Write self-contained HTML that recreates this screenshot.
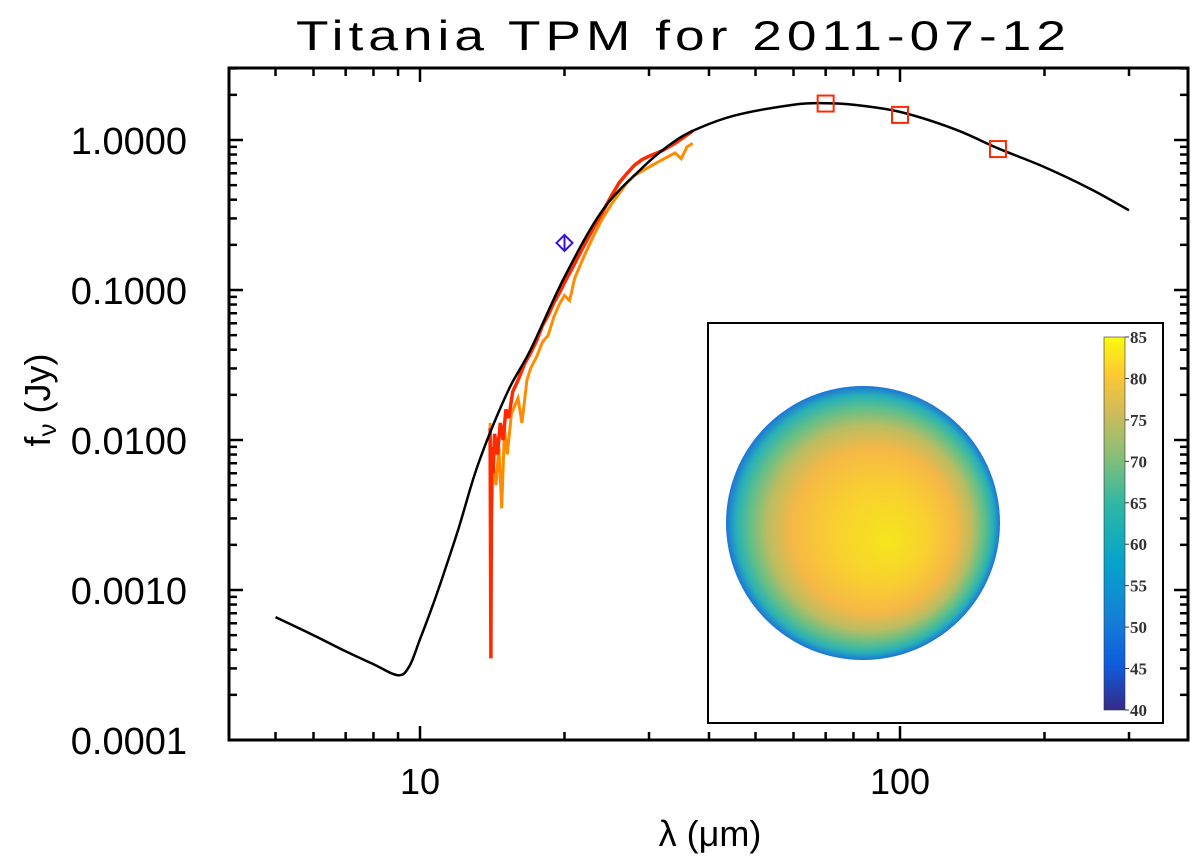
<!DOCTYPE html>
<html><head><meta charset="utf-8">
<style>
html,body{margin:0;padding:0;background:#fff;}
svg{display:block;font-family:"Liberation Sans",sans-serif;}
</style></head>
<body>
<svg id="chart" width="1200" height="866" viewBox="0 0 1200 866" xmlns="http://www.w3.org/2000/svg">
<defs>
<radialGradient id="diskGrad" cx="0.5" cy="0.5" r="0.5" fx="0.6" fy="0.57">
<stop offset="0" stop-color="#f4e61c"/>
<stop offset="0.35" stop-color="#f9cf30"/>
<stop offset="0.6" stop-color="#f5b846"/>
<stop offset="0.75" stop-color="#b9bd62"/>
<stop offset="0.86" stop-color="#5fbf8a"/>
<stop offset="0.94" stop-color="#27b0b8"/>
<stop offset="1" stop-color="#1d74d8"/>
</radialGradient>
<linearGradient id="cbGrad" x1="0" y1="1" x2="0" y2="0">
<stop offset="0" stop-color="#352a87"/>
<stop offset="0.12" stop-color="#0f5cdd"/>
<stop offset="0.25" stop-color="#1481d6"/>
<stop offset="0.4" stop-color="#06a4ca"/>
<stop offset="0.55" stop-color="#2eb7a4"/>
<stop offset="0.68" stop-color="#87bf77"/>
<stop offset="0.8" stop-color="#d1bb59"/>
<stop offset="0.9" stop-color="#fec832"/>
<stop offset="1" stop-color="#f9fb0e"/>
</linearGradient>
<clipPath id="plotClip"><rect x="229" y="68" width="959" height="672"/></clipPath>
</defs>
<text x="296" y="50" font-size="42" letter-spacing="4" textLength="775" lengthAdjust="spacingAndGlyphs" fill="#000">Titania TPM for 2011-07-12</text>
<g id="axes"></g>
<g id="series" clip-path="url(#plotClip)"></g>
<g id="inset">
<rect x="708" y="323" width="455" height="400" fill="#fff" stroke="#000" stroke-width="2"/>
<circle cx="863" cy="523" r="137" fill="url(#diskGrad)"/>
<rect x="1104" y="337" width="21" height="373" fill="url(#cbGrad)" stroke="#333" stroke-width="0.6"/>
<g id="cbLabels"></g>
</g>
<text x="710" y="846" font-size="36" text-anchor="middle">λ (μm)</text>
<text transform="translate(50,400) rotate(-90)" font-size="36" text-anchor="middle">f<tspan font-size="26" dy="6">ν</tspan><tspan dy="-6"> (Jy)</tspan></text>
</svg>
<script>
const modelLam = [5,6,7,8,9,9.5,10,10.5,11,12,13,14,15.4,17,20,24,29,33,37,45,60,70,80,100,130,160,200,250,300];
const modelFlux = [6.6e-4,5.0e-4,3.9e-4,3.2e-4,2.7e-4,3.1e-4,4.7e-4,7.1e-4,1.08e-3,2.5e-3,5.9e-3,0.0112,0.0226,0.040,0.122,0.34,0.65,0.92,1.15,1.45,1.72,1.76,1.72,1.54,1.18,0.88,0.66,0.47,0.34];
const redLam = [14.0,14.05,14.1,14.2,14.3,14.5,14.7,14.9,15.1,15.3,15.6,16,16.5,17,17.5,18,18.5,19,19.5,20,21,22,23,24,25,26,27,28,29,30,32,34,36,37];
const redFlux = [0.012,0.00035,0.009,0.006,0.011,0.008,0.013,0.010,0.016,0.014,0.021,0.025,0.032,0.038,0.046,0.058,0.068,0.082,0.095,0.112,0.15,0.2,0.26,0.33,0.42,0.52,0.6,0.68,0.74,0.78,0.85,0.95,1.08,1.15];
const orangeLam = [14.0,14.1,14.2,14.4,14.6,14.8,15,15.2,15.5,16,16.3,16.7,17,17.5,18,18.5,19,19.5,20,20.5,21,22,23,24,25,26,27,28,30,32,34,35,36,37];
const orangeFlux = [0.013,0.003,0.007,0.005,0.009,0.0035,0.012,0.008,0.015,0.019,0.013,0.025,0.03,0.036,0.045,0.05,0.066,0.08,0.092,0.085,0.12,0.17,0.23,0.3,0.37,0.44,0.52,0.58,0.66,0.74,0.82,0.75,0.9,0.95];
const photLam = [70,100,160];
const photFlux = [1.75,1.47,0.87];
const diamondLam = [20];
const diamondFlux = [0.206];
const yTickValues = [1,0.1,0.01,0.001,0.0001];
const yTickLabels = ["1.0000","0.1000","0.0100","0.0010","0.0001"];
const xTickValues = [10,100];
const xTickLabels = ["10","100"];
const cbTicks = [40,45,50,55,60,65,70,75,80,85];

const NS="http://www.w3.org/2000/svg";
const L=229,R=1188,T=68,B=740;
function xs(l){return 420+480*(Math.log10(l)-1);}
function ys(f){return 140-150*Math.log10(f);}
function mk(tag,attrs,parent){const e=document.createElementNS(NS,tag);for(const k in attrs)e.setAttribute(k,attrs[k]);parent.appendChild(e);return e;}
const axes=document.getElementById('axes'), ser=document.getElementById('series');
const frame=mk('rect',{x:L,y:T,width:R-L,height:B-T,fill:'none',stroke:'#000','stroke-width':3},axes);


for(let d=0;d<3;d++){for(let m=1;m<10;m++){const v=m*Math.pow(10,d);const x=xs(v);if(x<L||x>R)continue;const len=m===1?14:8;
mk('line',{x1:x,y1:B,x2:x,y2:B-len,stroke:'#000','stroke-width':2.5},axes);mk('line',{x1:x,y1:T,x2:x,y2:T+len,stroke:'#000','stroke-width':2.5},axes);}}
xTickValues.forEach((v,i)=>{const t=mk('text',{x:xs(v),y:794,'font-size':36,'text-anchor':'middle'},axes);t.textContent=xTickLabels[i];

});
for(let d=-4;d<1;d++){for(let m=1;m<10;m++){const v=m*Math.pow(10,d);const y=ys(v);if(y<T||y>B)continue;const len=m===1?14:8;
mk('line',{x1:L,y1:y,x2:L+len,y2:y,stroke:'#000','stroke-width':2.5},axes);mk('line',{x1:R,y1:y,x2:R-len,y2:y,stroke:'#000','stroke-width':2.5},axes);}}
yTickValues.forEach((v,i)=>{const t=mk('text',{x:187,y:ys(v)+14,'font-size':38,'text-anchor':'end'},axes);t.textContent=yTickLabels[i];

});
function path(lam,fl){return lam.map((l,i)=>(i?'L':'M')+xs(l).toFixed(1)+','+ys(fl[i]).toFixed(1)).join(' ');}
function smooth(lam,fl){const p=lam.map((l,i)=>[xs(l),ys(fl[i])]);let d='M'+p[0][0].toFixed(1)+','+p[0][1].toFixed(1);
for(let i=0;i<p.length-1;i++){const p0=p[Math.max(0,i-1)],p1=p[i],p2=p[i+1],p3=p[Math.min(p.length-1,i+2)];
const c1=[p1[0]+(p2[0]-p0[0])/6,p1[1]+(p2[1]-p0[1])/6],c2=[p2[0]-(p3[0]-p1[0])/6,p2[1]-(p3[1]-p1[1])/6];
d+=` C${c1[0].toFixed(1)},${c1[1].toFixed(1)} ${c2[0].toFixed(1)},${c2[1].toFixed(1)} ${p2[0].toFixed(1)},${p2[1].toFixed(1)}`;}return d;}
const po=mk('path',{d:path(orangeLam,orangeFlux),fill:'none',stroke:'#ff8c00','stroke-width':3},ser);


const pr=mk('path',{d:path(redLam,redFlux),fill:'none',stroke:'#ff2a00','stroke-width':3.5},ser);


const pm=mk('path',{d:smooth(modelLam,modelFlux),fill:'none',stroke:'#000','stroke-width':2.5},ser);


photLam.forEach((l,i)=>{const s=mk('rect',{x:xs(l)-8,y:ys(photFlux[i])-8,width:16,height:16,fill:'none',stroke:'#ff2a00','stroke-width':2},ser);

});
diamondLam.forEach((l,i)=>{const x=xs(l),y=ys(diamondFlux[i]);const g=mk('path',{d:`M${x-8},${y} L${x},${y-8} L${x+8},${y} L${x},${y+8} Z M${x},${y-8} L${x},${y+8}`,fill:'none',stroke:'#3b10e0','stroke-width':2},ser);

});
const cb=document.getElementById('cbLabels');
cbTicks.forEach(v=>{const y=710-(v-40)/45*373;mk('line',{x1:1125,y1:y,x2:1129,y2:y,stroke:'#333','stroke-width':1},cb);
const t=mk('text',{x:1130,y:y+6,'font-size':17,'font-family':'Liberation Serif, serif','font-weight':'bold',fill:'#333'},cb);t.textContent=v;

});
</script>
</body></html>
